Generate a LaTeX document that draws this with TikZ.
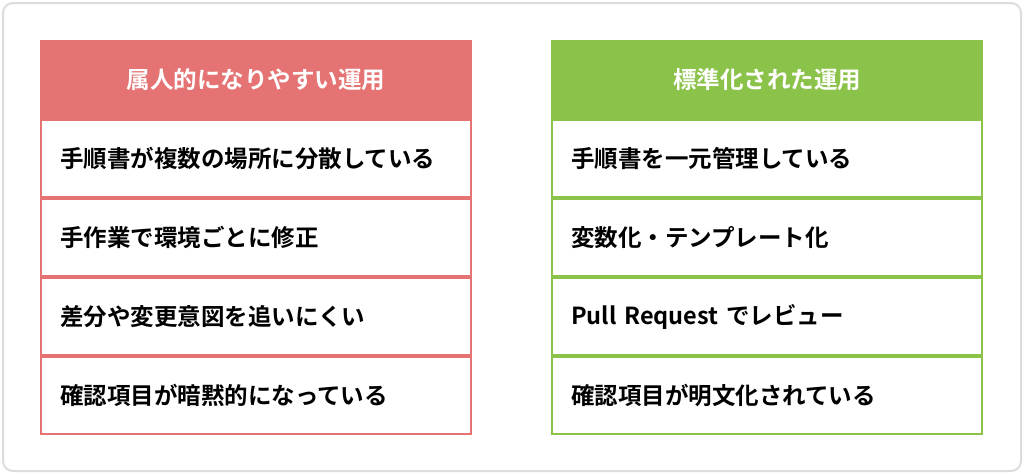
\documentclass[tikz,border=0pt]{standalone}
\usepackage{fontspec}
\newfontfamily\jpfont{Noto Sans CJK JP}[BoldFont={* Bold}]
\usetikzlibrary{positioning}
\definecolor{badred}{HTML}{E57373}
\definecolor{goodgreen}{HTML}{8BC34A}
\definecolor{framegray}{HTML}{DDDDDD}
\tikzset{
  head/.style={draw=#1, fill=#1, line width=2pt, minimum width=430pt, minimum height=77pt,
    inner sep=0pt, text=white, font=\jpfont\bfseries\fontsize{23.5}{26}\selectfont},
  row/.style={draw=#1, fill=white, line width=2pt, minimum width=430pt, minimum height=77pt,
    inner sep=0pt, text width=392pt, align=left, font=\jpfont\bfseries\fontsize{23.5}{26}\selectfont}
}
\begin{document}
\begin{tikzpicture}[x=1pt,y=-1pt]
    \useasboundingbox (0,0) rectangle (1024,474);
    \draw [framegray, line width=2pt, fill=white, rounded corners=10pt] (3,3) rectangle (1021,471);
    % left table
    \node [head=badred] (lh) at (256,79.5) {属人的になりやすい運用};
    \node [row=badred, below=0pt of lh] (l1) {手順書が複数の場所に分散している};
    \node [row=badred, below=0pt of l1] (l2) {手作業で環境ごとに修正};
    \node [row=badred, below=0pt of l2] (l3) {差分や変更意図を追いにくい};
    \node [row=badred, below=0pt of l3] (l4) {確認項目が暗黙的になっている};
    % right table
    \node [head=goodgreen] (rh) at (767,79.5) {標準化された運用};
    \node [row=goodgreen, below=0pt of rh] (r1) {手順書を一元管理している};
    \node [row=goodgreen, below=0pt of r1] (r2) {変数化・テンプレート化};
    \node [row=goodgreen, below=0pt of r2] (r3) {Pull Request でレビュー};
    \node [row=goodgreen, below=0pt of r3] (r4) {確認項目が明文化されている};
\end{tikzpicture}
\end{document}
